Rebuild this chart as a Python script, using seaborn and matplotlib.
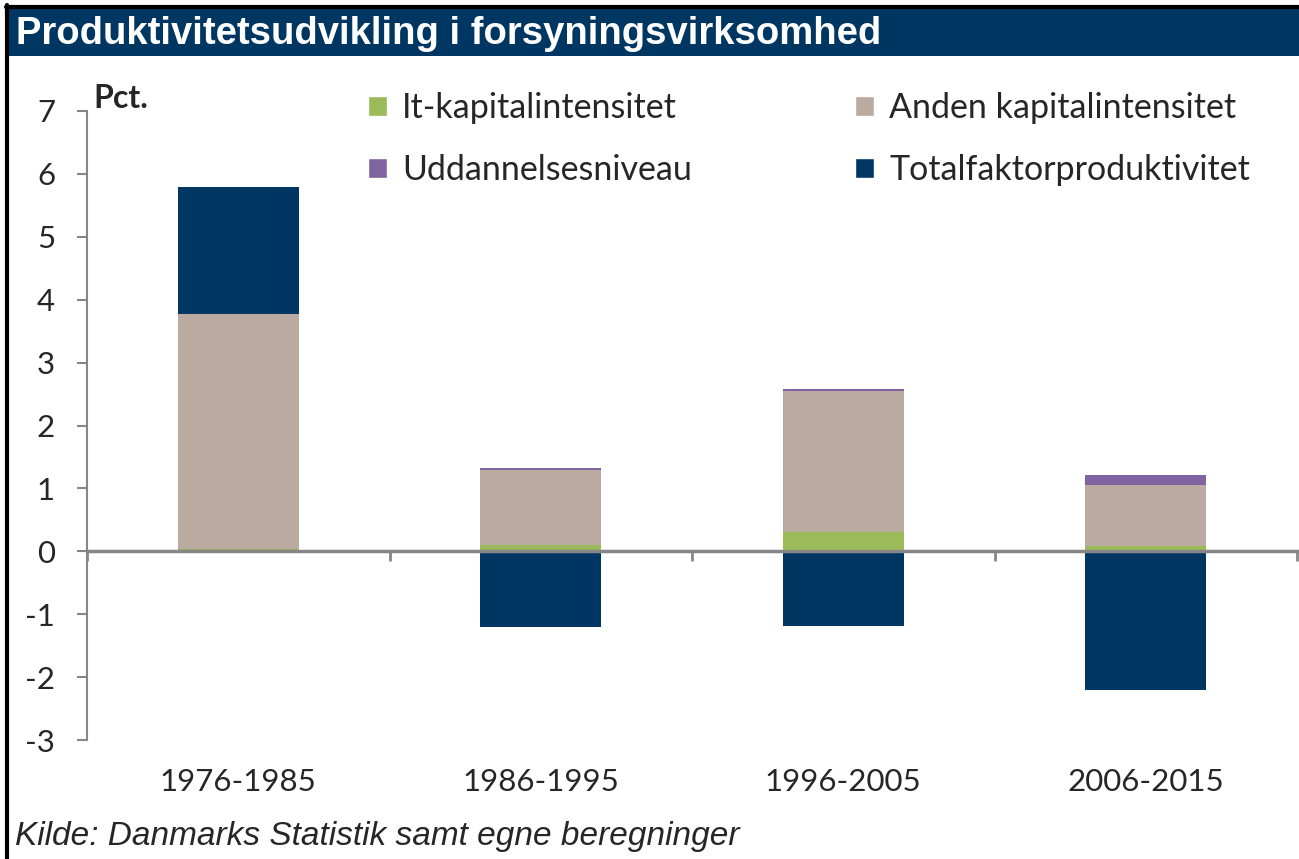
import numpy as np
import pandas as pd
import matplotlib
matplotlib.use("Agg")
import matplotlib.pyplot as plt
import matplotlib.transforms as mtransforms
from matplotlib.patches import Patch, Rectangle
from matplotlib.lines import Line2D
import seaborn as sns

# data (pct. per year)
periods = ["1976-1985", "1986-1995", "1996-2005", "2006-2015"]
it_kap = [0.04, 0.10, 0.31, 0.08]
anden_kap = [3.73, 1.20, 2.24, 0.97]
uddannelse = [0.01, 0.03, 0.03, 0.16]
tfp = [2.01, -1.21, -1.18, -2.21]

labels = ["It-kapitalintensitet", "Anden kapitalintensitet",
          "Uddannelsesniveau", "Totalfaktorproduktivitet"]
colors = ["#9BBB59", "#BBAAA0", "#8064A2", "#003662"]

# stack levels (drawn back to front)
tfp_arr = np.array(tfp)
lvl1 = np.array(it_kap)
lvl2 = lvl1 + np.array(anden_kap)
lvl3 = lvl2 + np.array(uddannelse)
lvl4 = lvl3 + np.clip(tfp_arr, 0, None)
neg = np.clip(tfp_arr, None, 0)

df = pd.DataFrame({"period": periods, "lvl1": lvl1, "lvl2": lvl2,
                   "lvl3": lvl3, "lvl4": lvl4, "neg": neg})

sns.set_theme(style="white")
plt.rcParams["font.family"] = ["Lato", "DejaVu Sans"]
plt.rcParams["axes.unicode_minus"] = False

fig = plt.figure(figsize=(12.99, 8.59), dpi=100)
ax = fig.add_axes([0.067, 0.1385, 0.9315, 0.7323])

for col, c in [("lvl4", colors[3]), ("lvl3", colors[2]), ("lvl2", colors[1]),
               ("lvl1", colors[0]), ("neg", colors[3])]:
    sns.barplot(data=df, x="period", y=col, color=c, width=0.4, saturation=1,
                errorbar=None, linewidth=0, ax=ax)

ax.set_xlim(-0.5, len(periods) - 0.5)
ax.set_ylim(-3, 7)
ax.set_yticks(range(-3, 8))
ax.set_xlabel("")
ax.set_ylabel("")

grey = "#868686"
for s in ["top", "right"]:
    ax.spines[s].set_visible(False)
ax.spines["left"].set_color(grey)
ax.spines["left"].set_linewidth(1.5)
ax.spines["bottom"].set_position(("data", 0))
ax.spines["bottom"].set_color(grey)
ax.spines["bottom"].set_linewidth(2.5)

ax.tick_params(axis="y", direction="out", length=7, width=1.5, color=grey,
               labelsize=22.5, pad=16, left=True)
ax.set_xticks(np.arange(len(periods) + 1) - 0.5)
ax.set_xticklabels([])
ax.tick_params(axis="x", direction="out", length=7, width=2, color=grey, bottom=True)

trans = mtransforms.blended_transform_factory(ax.transData, ax.transAxes)
for i, p in enumerate(periods):
    ax.text(i, -0.067, p, transform=trans, ha="center", va="center", fontsize=22.5)

fig.text(93 / 1299, 1 - 99 / 859, "Pct.", fontsize=23, fontweight="bold",
         ha="left", va="center")

handles = [Patch(facecolor=colors[0]), Patch(facecolor=colors[2]),
           Patch(facecolor=colors[1]), Patch(facecolor=colors[3])]
leg_labels = [labels[0], labels[2], labels[1], labels[3]]
fig.legend(handles, leg_labels, ncol=2, frameon=False, fontsize=24.5,
           loc="upper left", bbox_to_anchor=(368 / 1299, 1 - 92 / 859),
           handlelength=0.55, handleheight=0.55, handletextpad=0.45,
           columnspacing=4.8, labelspacing=0.88, borderaxespad=0, borderpad=0)

# title band and frame
fig.patches.append(Rectangle((8 / 1299, 1 - 56 / 859), 1.0, 48 / 859,
                             transform=fig.transFigure, facecolor="#003662",
                             edgecolor="none", zorder=0))
fig.add_artist(Line2D([6 / 1299, 1], [1 - 6.5 / 859] * 2, color="black", lw=3))
fig.add_artist(Line2D([6.5 / 1299] * 2, [0, 1 - 5 / 859], color="black", lw=3))
fig.text(16 / 1299, 1 - 34 / 859, "Produktivitetsudvikling i forsyningsvirksomhed",
         color="white", fontsize=27.5, fontweight="bold", ha="left", va="center",
         family=["Liberation Sans", "DejaVu Sans"])
fig.text(15 / 1299, 1 - 836 / 859, "Kilde: Danmarks Statistik samt egne beregninger",
         fontsize=24, style="italic", ha="left", va="center",
         family=["Liberation Sans", "DejaVu Sans"])

fig.savefig("out.png", dpi=100)
